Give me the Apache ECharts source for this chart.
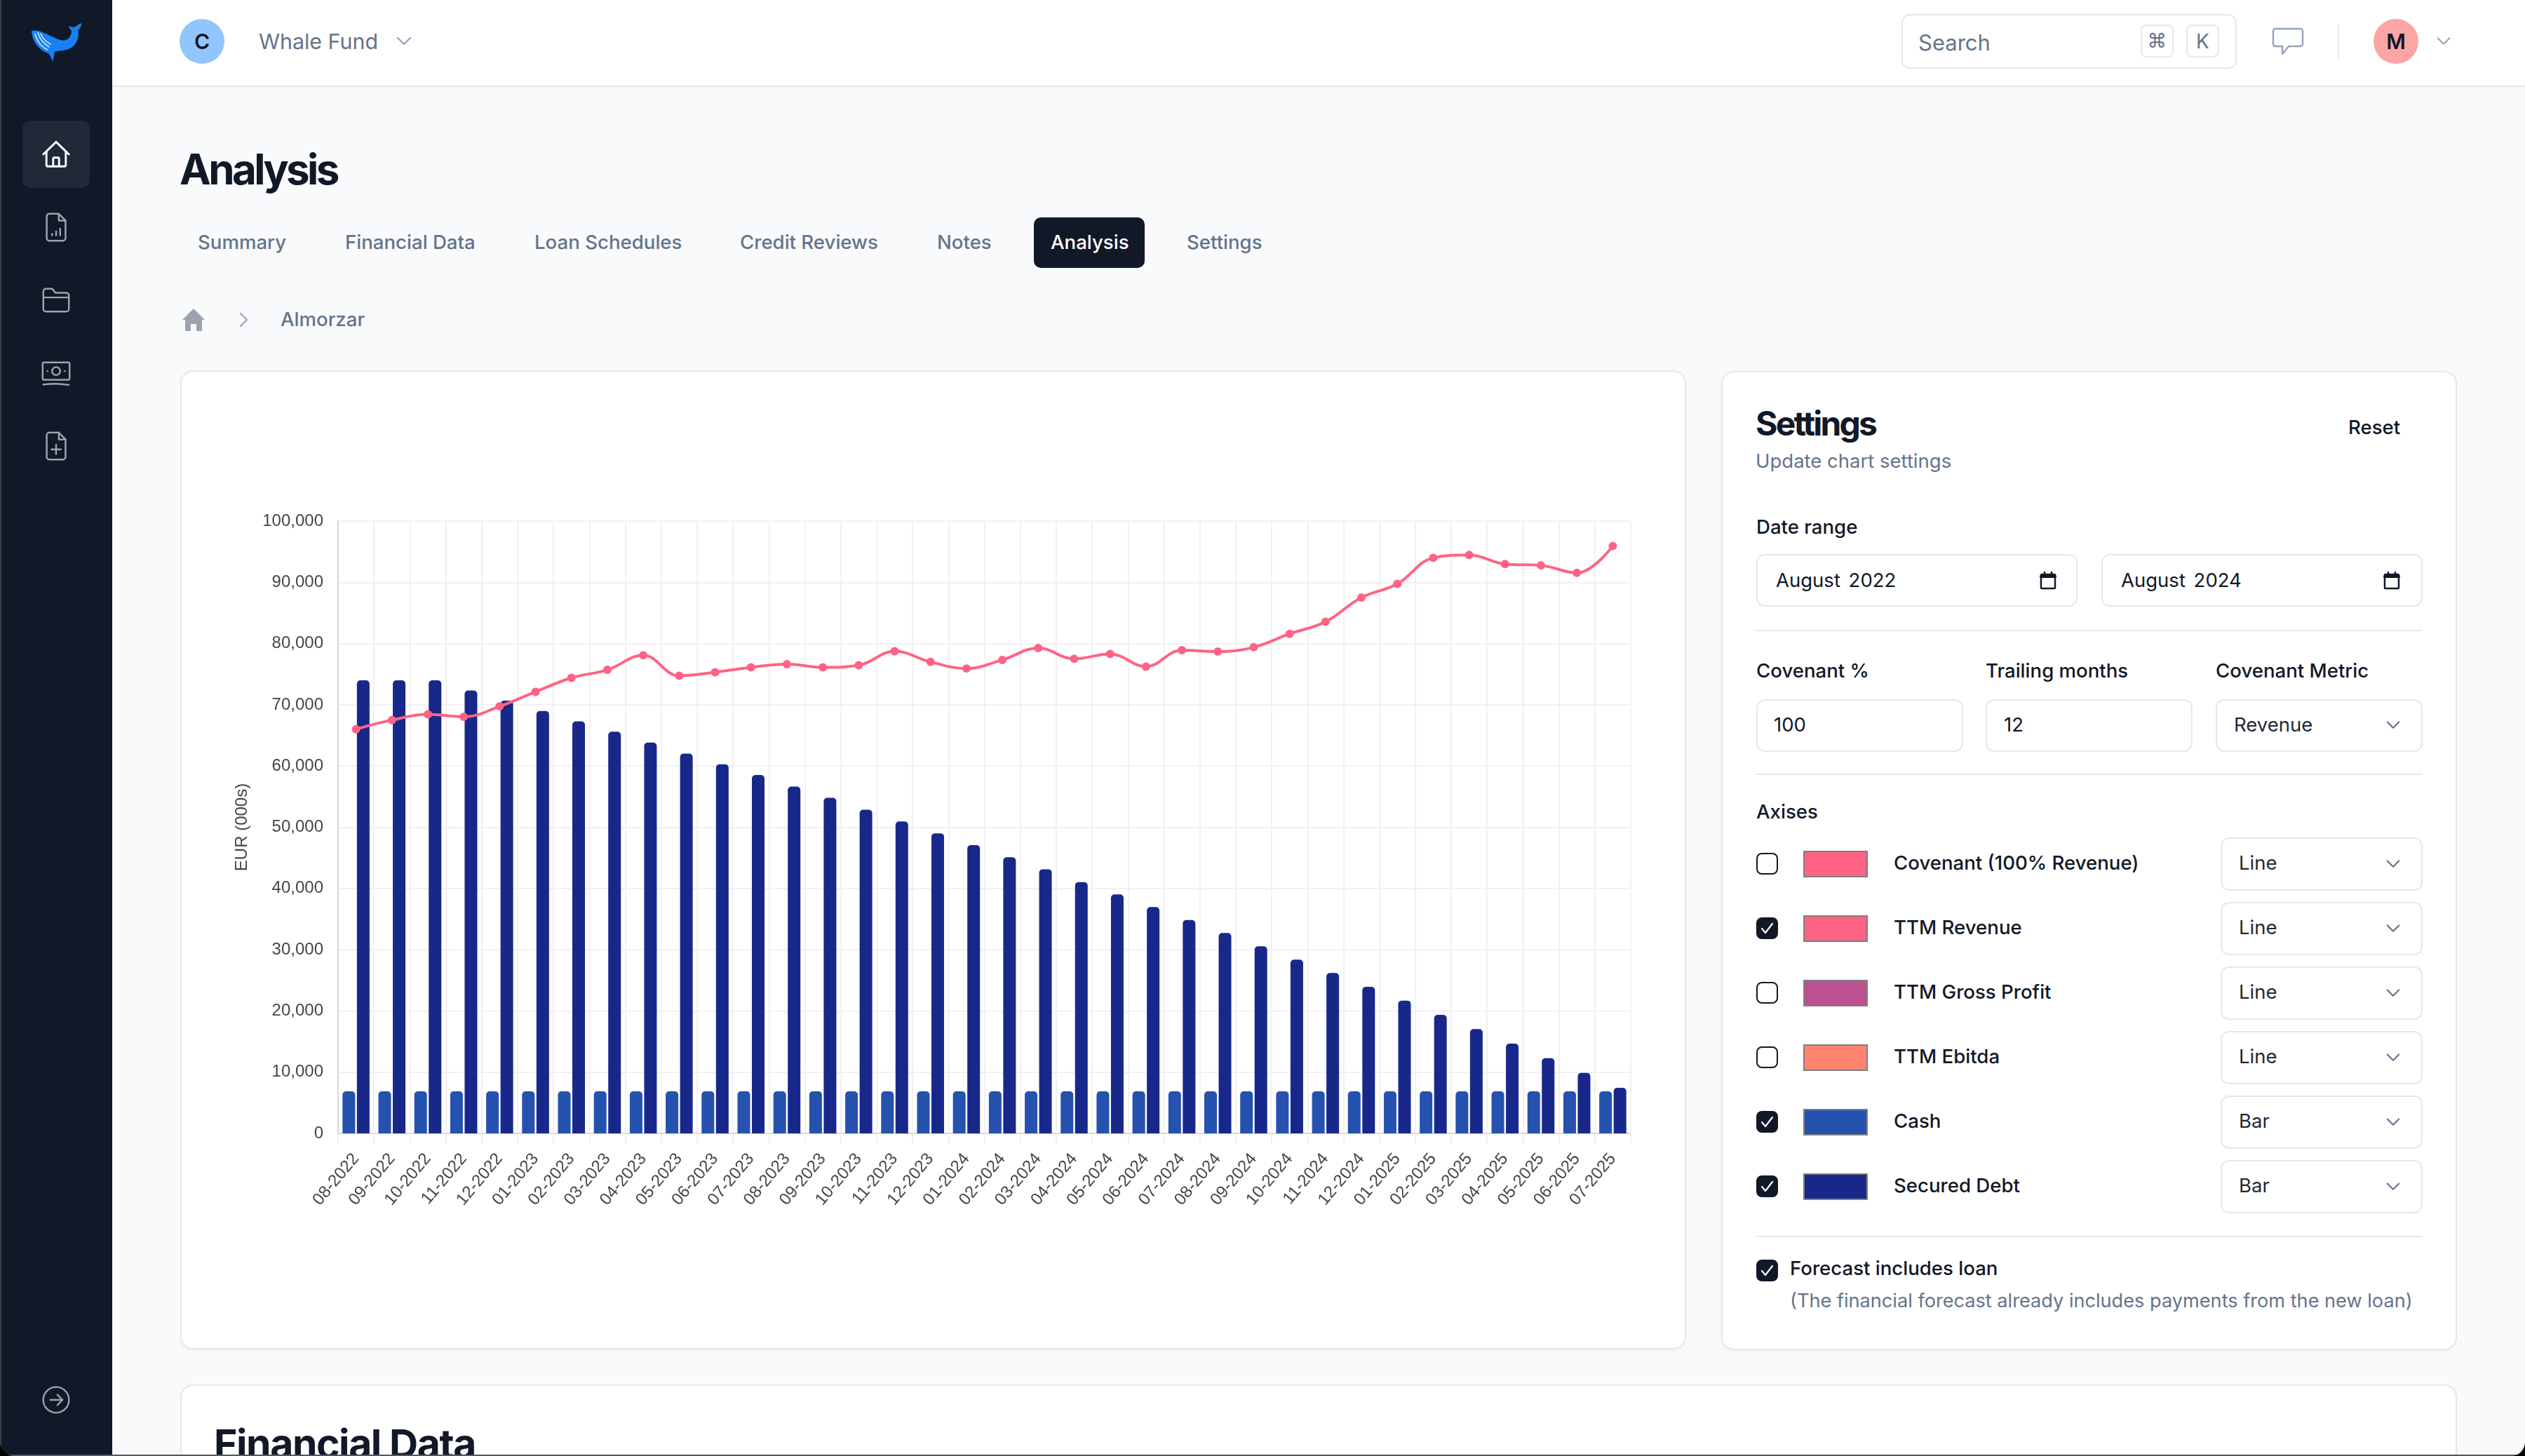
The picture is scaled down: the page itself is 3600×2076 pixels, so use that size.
<!DOCTYPE html>
<html><head><meta charset="utf-8"><title>Analysis</title>
<script src="https://cdn.jsdelivr.net/npm/echarts@6/dist/echarts.min.js"></script>
<style>
html,body{margin:0;padding:0;width:3600px;height:2076px;overflow:hidden;background:#f9fafb;font-family:Inter,"Noto Sans",sans-serif;color:#111827}
.a{position:absolute;white-space:nowrap;line-height:1}
.vc{transform:translateY(-50%)}
.card{position:absolute;background:#fff;border:2px solid #e5e7eb;border-radius:18px;box-sizing:border-box;box-shadow:0 2px 3px rgba(0,0,0,.04)}
.box{position:absolute;background:#fff;border:2px solid #e2e8f0;border-radius:12px;box-sizing:border-box}
.t28{font-size:27.6px;font-weight:500}
.grey{color:#64748b}
.div{position:absolute;height:2px;background:#e2e8f0;left:2503px;width:951px}
.cb{position:absolute;left:2504px;width:31px;height:31px;box-sizing:border-box;border-radius:8px;border:2px solid #111827;background:#fff}
.cb.on{background:#111827}
.cb.on svg{position:absolute;left:1px;top:1px}
.sw{position:absolute;left:2571px;width:92px;height:38px;box-sizing:border-box;border:2px solid #7f7f7f}
svg.i{position:absolute;fill:none;stroke-linecap:round;stroke-linejoin:round}
</style></head><body>
<!-- sidebar -->
<div style="position:absolute;left:0;top:0;width:160px;height:2076px;background:#111827;border-left:2px solid #3a3f49;box-sizing:border-box"></div>
<svg class="i" style="left:42px;top:30px" width="76" height="60" viewBox="0 0 76 60"><path d="M3 14C14 10 28 22 44 27C54 30 60 22 60 14C58 12 56 8 57 7C60 8 63 9 64 9C67 7 71 4 74 3C74 7 72 12 69 13C72 24 66 38 52 41C46 43 40 42 36 44L33 58C31 52 29 48 27 46C14 42 4 30 3 14Z" style="fill:#1780f4;stroke:none"/><path d="M8 18C10 28 17 37 26 41M12 16C14 25 20 32 28 37M16 18C18 24 23 29 30 33" style="stroke:#cfe4fb;stroke-width:1.6"/></svg>
<div style="position:absolute;left:32px;top:172px;width:96px;height:96px;border-radius:12px;background:#1f2937"></div>
<svg class="i" style="left:57px;top:197px" width="46" height="46" viewBox="0 0 24 24" stroke="#fff" stroke-width="1.5"><path d="M2.5 12 12 2.8 21.5 12M4.8 9.8V20a1 1 0 0 0 1 1H18.200a1 1 0 0 0 1-1V9.800M9.800 21v-5.500a1 1 0 0 1 1-1h2.400a1 1 0 0 1 1 1V21"/></svg>
<svg class="i" style="left:57px;top:301px" width="46" height="46" viewBox="0 0 24 24" stroke="#9ca3af" stroke-width="1.3"><path d="M14 2H7a2 2 0 0 0-2 2v16a2 2 0 0 0 2 2h10a2 2 0 0 0 2-2V7zM14 2v5h5M9 18v-1M12 18v-3M15 18v-5"/></svg>
<svg class="i" style="left:57px;top:404px" width="46" height="46" viewBox="0 0 24 24" stroke="#9ca3af" stroke-width="1.3"><path d="M2.500 12V6a2 2 0 0 1 2-2h4.500l2.500 3h8a2 2 0 0 1 2 2v10a2 2 0 0 1-2 2h-15a2 2 0 0 1-2-2zM2.500 10.500h19"/></svg>
<svg class="i" style="left:57px;top:509px" width="46" height="46" viewBox="0 0 24 24" stroke="#9ca3af" stroke-width="1.3"><rect x="2" y="4" width="20" height="13" rx="1"/><circle cx="12" cy="10.500" r="3"/><path d="M2.500 20.500c6-.8 13-.8 19 .3M5.500 10.500h.1M18.500 10.500h.1"/></svg>
<svg class="i" style="left:57px;top:613px" width="46" height="46" viewBox="0 0 24 24" stroke="#9ca3af" stroke-width="1.3"><path d="M14 2H7a2 2 0 0 0-2 2v16a2 2 0 0 0 2 2h10a2 2 0 0 0 2-2V7zM14 2v5h5M12 11v7M8.500 14.500h7"/></svg>
<svg class="i" style="left:58px;top:1974px" width="44" height="44" viewBox="0 0 24 24" stroke="#9ca3af" stroke-width="1.3"><circle cx="12" cy="12" r="10"/><path d="M7.500 12h9M13 8l4 4-4 4"/></svg>
<!-- header -->
<div style="position:absolute;left:160px;top:0;width:3440px;height:124px;background:#fff;border-bottom:2px solid #e5e7eb;box-sizing:border-box"></div>
<div style="position:absolute;left:256px;top:27px;width:64px;height:64px;border-radius:50%;background:#93c5fd"></div>
<div class="a vc" style="left:288px;top:59px;font-size:30px;font-weight:600;transform:translate(-50%,-50%)">C</div>
<div class="a vc grey" style="left:369px;top:59px;font-size:30.4px">Whale Fund</div>
<svg class="i" style="left:564px;top:48px" width="24" height="22" viewBox="0 0 24 22" stroke="#94a3b8" stroke-width="2.400"><path d="M3 6l9 9 9-9"/></svg>
<div class="box" style="left:2711px;top:20px;width:478px;height:78px"></div>
<div class="a vc grey" style="left:2735px;top:60px;font-size:31px">Search</div>
<div class="box" style="left:3052px;top:35px;width:47px;height:47px;border-radius:8px"></div>
<div class="a vc grey" style="left:3075.500px;top:59px;font-size:28px;transform:translate(-50%,-50%);font-family:'DejaVu Sans'">⌘</div>
<div class="box" style="left:3117px;top:35px;width:47px;height:47px;border-radius:8px"></div>
<div class="a vc grey" style="left:3140.500px;top:59px;font-size:28px;transform:translate(-50%,-50%)">K</div>
<svg class="i" style="left:3238px;top:36px" width="48" height="46" viewBox="0 0 24 23" stroke="#94a3b8" stroke-width="1.200"><path d="M3 2.500h18a1.500 1.500 0 0 1 1.500 1.500v9.500a1.500 1.500 0 0 1-1.500 1.500H12.500L8 20.500V15H3a1.500 1.500 0 0 1-1.500-1.500V4A1.500 1.500 0 0 1 3 2.500z"/></svg>
<div style="position:absolute;left:3333px;top:35px;width:2px;height:48px;background:#e5e7eb"></div>
<div style="position:absolute;left:3384px;top:27px;width:64px;height:64px;border-radius:50%;background:#fca5a5"></div>
<div class="a" style="left:3416px;top:59px;font-size:30px;font-weight:600;transform:translate(-50%,-50%)">M</div>
<svg class="i" style="left:3473px;top:48px" width="22" height="22" viewBox="0 0 24 24" stroke="#94a3b8" stroke-width="2.400"><path d="M3 7l9 9 9-9"/></svg>
<!-- title and tabs -->
<div class="a vc" style="left:256px;top:241px;font-size:60px;font-weight:700;letter-spacing:-3.600px">Analysis</div>
<div class="a vc t28 grey" style="left:282px;top:346px">Summary</div>
<div class="a vc t28 grey" style="left:492px;top:346px">Financial Data</div>
<div class="a vc t28 grey" style="left:762px;top:346px">Loan Schedules</div>
<div class="a vc t28 grey" style="left:1055px;top:346px">Credit Reviews</div>
<div class="a vc t28 grey" style="left:1336px;top:346px">Notes</div>
<div style="position:absolute;left:1474px;top:310px;width:158px;height:72px;border-radius:10px;background:#111827"></div>
<div class="a vc t28" style="left:1498px;top:346px;color:#fff">Analysis</div>
<div class="a vc t28 grey" style="left:1692px;top:346px">Settings</div>
<svg class="i" style="left:259px;top:439px" width="34" height="34" viewBox="0 0 34 34"><path d="M17 1L33 17H29V33H21V23H13V33H5V17H1Z" style="fill:#9ca3af;stroke:none"/></svg>
<svg class="i" style="left:340px;top:445px" width="16" height="22" viewBox="0 0 16 22" stroke="#9ca3af" stroke-width="2.200"><path d="M3 2l9 9-9 9"/></svg>
<div class="a vc t28 grey" style="left:400px;top:456px">Almorzar</div>
<!-- chart card -->
<div class="card" style="left:257px;top:528px;width:2147px;height:1396px"></div>
<div id="chart" style="position:absolute;left:257px;top:528px;width:2147px;height:1396px"></div>
<!-- settings card -->
<div class="card" style="left:2454px;top:529px;width:1049px;height:1396px"></div>
<div class="a vc" style="left:2503px;top:604px;font-size:48px;font-weight:700;letter-spacing:-2.800px">Settings</div>
<div class="a vc t28" style="left:3348px;top:610px">Reset</div>
<div class="a vc grey" style="left:2503px;top:658px;font-size:27.5px">Update chart settings</div>
<div class="a vc t28" style="left:2504px;top:752px">Date range</div>
<div class="box" style="left:2504px;top:790px;width:458px;height:75px"></div>
<div class="a vc" style="left:2532px;top:828px;font-size:27.5px;word-spacing:4px">August 2022</div>
<svg class="i" style="left:2907px;top:814px" width="26" height="28" viewBox="0 0 26 28" stroke="#111827" stroke-width="2.500"><rect x="3" y="5" width="20" height="20" rx="1"/><path d="M3 8h20" stroke-width="4"/><path d="M8 2v3M18 2v3"/></svg>
<div class="box" style="left:2996px;top:790px;width:458px;height:75px"></div>
<div class="a vc" style="left:3024px;top:828px;font-size:27.5px;word-spacing:4px">August 2024</div>
<svg class="i" style="left:3397px;top:814px" width="26" height="28" viewBox="0 0 26 28" stroke="#111827" stroke-width="2.500"><rect x="3" y="5" width="20" height="20" rx="1"/><path d="M3 8h20" stroke-width="4"/><path d="M8 2v3M18 2v3"/></svg>
<div class="div" style="top:898px"></div>
<div class="a vc t28" style="left:2504px;top:957px">Covenant %</div>
<div class="a vc t28" style="left:2831px;top:957px">Trailing months</div>
<div class="a vc t28" style="left:3159px;top:957px">Covenant Metric</div>
<div class="box" style="left:2504px;top:997px;width:295px;height:75px"></div>
<div class="a vc" style="left:2529px;top:1034px;font-size:27.5px">100</div>
<div class="box" style="left:2831px;top:997px;width:295px;height:75px"></div>
<div class="a vc" style="left:2857px;top:1034px;font-size:27.5px">12</div>
<div class="box" style="left:3159px;top:997px;width:295px;height:75px"></div>
<div class="a vc" style="left:3185px;top:1034px;font-size:27.5px;color:#1f2937">Revenue</div>
<svg class="i" style="left:3401px;top:1023px" width="22" height="22" viewBox="0 0 24 24" stroke="#64748b" stroke-width="2.400"><path d="M3 7l9 9 9-9"/></svg>
<div class="div" style="top:1103px"></div>
<div class="a vc t28" style="left:2504px;top:1158px">Axises</div>
<div id="rows"></div>
<div class="div" style="top:1762px"></div>
<div class="cb on" style="top:1796px"><svg width="25" height="25" viewBox="0 0 25 25" fill="none" stroke="#fff" stroke-width="2.200" stroke-linecap="round" stroke-linejoin="round"><path d="M5 13l5 6L20 6"/></svg></div>
<div class="a vc t28" style="left:2552px;top:1809px">Forecast includes loan</div>
<div class="a vc grey" style="left:2552px;top:1855px;font-size:27.15px">(The financial forecast already includes payments from the new loan)</div>
<!-- financial data card -->
<div class="card" style="left:257px;top:1974px;width:3246px;height:140px"></div>
<div class="a" style="left:305px;top:2030px;font-size:57px;font-weight:700;letter-spacing:-1.400px">Financial Data</div>
<!-- window corners -->
<div style="position:absolute;left:0;top:2074px;width:3600px;height:2px;background:#55585f"></div>
<svg style="position:absolute;left:0;top:2056px" width="20" height="20"><path d="M0 0V20H20A20 20 0 0 1 0 0Z" fill="#000"/></svg>
<svg style="position:absolute;left:3580px;top:2056px" width="20" height="20"><path d="M20 0V20H0A20 20 0 0 0 20 0Z" fill="#000"/></svg>
<script>
const categories = ["08-2022","09-2022","10-2022","11-2022","12-2022","01-2023","02-2023","03-2023","04-2023","05-2023","06-2023","07-2023","08-2023","09-2023","10-2023","11-2023","12-2023","01-2024","02-2024","03-2024","04-2024","05-2024","06-2024","07-2024","08-2024","09-2024","10-2024","11-2024","12-2024","01-2025","02-2025","03-2025","04-2025","05-2025","06-2025","07-2025"];
const ttmRevenue = [66020,67510,68430,68040,69750,72120,74400,75710,78080,74750,75320,76110,76630,76110,76460,78740,77000,75930,77330,79260,77510,78300,76240,78910,78690,79400,81590,83560,87510,89740,94000,94480,92990,92770,91540,95920];
const cash = [6870,6870,6870,6870,6870,6870,6870,6870,6870,6870,6870,6870,6870,6870,6870,6870,6870,6870,6870,6870,6870,6870,6870,6870,6870,6870,6870,6870,6870,6870,6870,6870,6870,6870,6870,6870];
const securedDebt = [74000,74000,74000,72340,70670,69000,67300,65600,63830,62030,60280,58530,56640,54800,52870,50940,49010,47080,45110,43140,41030,39020,36960,34860,32720,30550,28370,26190,23940,21690,19360,17030,14660,12290,9890,7450];
const axisName = "EUR (000s)";
const settingsRows = [["Covenant (100% Revenue)","#ff6384",false,"Line"],["TTM Revenue","#ff6384",true,"Line"],["TTM Gross Profit","#bc5090",false,"Line"],["TTM Ebitda","#ff8570",false,"Line"],["Cash","#2552ae",true,"Bar"],["Secured Debt","#18288a",true,"Bar"]];

const rowsHtml = settingsRows.map((r,i)=>{
  const y = 1232 + i*92;
  const tick = '<svg width="25" height="25" viewBox="0 0 25 25" fill="none" stroke="#fff" stroke-width="2.200" stroke-linecap="round" stroke-linejoin="round"><path d="M5 13l5 6L20 6"/></svg>';
  return `<div class="cb ${r[2]?'on':''}" style="top:${y-16}px">${r[2]?tick:''}</div>`+
  `<div class="sw" style="top:${y-19}px;background:${r[1]}"></div>`+
  `<div class="a vc t28" style="left:2700px;top:${y-1}px">${r[0]}</div>`+
  `<div class="box" style="left:3166px;top:${y-38}px;width:288px;height:76px"></div>`+
  `<div class="a vc" style="left:3192px;top:${y-1}px;font-size:27.5px;color:#1f2937">${r[3]}</div>`+
  `<svg class="i" style="left:3401px;top:${y-11}px" width="22" height="22" viewBox="0 0 24 24" stroke="#64748b" stroke-width="2.400"><path d="M3 7l9 9 9-9"/></svg>`;
}).join('');
document.getElementById('rows').innerHTML = rowsHtml;

const gridCol = '#f1f1f4', axisCol = '#d6d6e4', textCol = '#45454d', fontF = '"Liberation Sans", Arial, sans-serif';
const chart = echarts.init(document.getElementById('chart'), null, {renderer:'canvas'});
chart.setOption({
  animation:false,
  backgroundColor:'transparent',
  grid:{left:225,right:79,top:215,bottom:308,containLabel:false},
  xAxis:{type:'category',data:categories,boundaryGap:true,
    axisLine:{show:true,lineStyle:{color:axisCol,width:2}},
    axisTick:{show:true,length:16,lineStyle:{color:gridCol,width:2}},
    axisLabel:{interval:0,rotate:50,margin:32,fontSize:24,color:textCol,fontFamily:fontF},
    splitLine:{show:true,lineStyle:{color:gridCol,width:2}}},
  yAxis:{type:'value',min:0,max:100000,interval:10000,name:axisName,nameLocation:'middle',nameGap:125,
    nameTextStyle:{fontSize:24,color:textCol,fontFamily:fontF},
    axisLine:{show:true,lineStyle:{color:axisCol,width:2}},axisTick:{show:false},
    axisLabel:{margin:21,fontSize:24,color:textCol,fontFamily:fontF,formatter:v=>v.toLocaleString('en-US')},
    splitLine:{show:true,lineStyle:{color:gridCol,width:2}}},
  series:[
    {name:'TTM Revenue',type:'line',data:ttmRevenue,smooth:0.4,symbol:'circle',symbolSize:12,z:5,
      lineStyle:{color:'#ff6384',width:4},itemStyle:{color:'#ff6384'}},
    {name:'Cash',type:'bar',data:cash,barWidth:18,barGap:'14%',itemStyle:{color:'#2552ae',borderRadius:[5,5,0,0]}},
    {name:'Secured Debt',type:'bar',data:securedDebt,barWidth:18,itemStyle:{color:'#18288a',borderRadius:[5,5,0,0]}}
  ]
});
</script>
</body></html>
